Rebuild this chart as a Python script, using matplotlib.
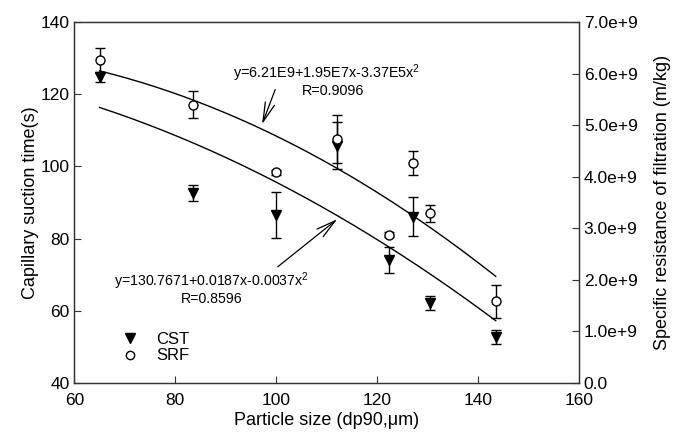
import numpy as np
import matplotlib
matplotlib.use('Agg')
import matplotlib.pyplot as plt
from matplotlib.lines import Line2D

plt.rcParams['font.family'] = ['Liberation Sans', 'DejaVu Sans']
plt.rcParams['mathtext.default'] = 'regular'

# particle size (dp90, um)
particle_size = [65, 83.5, 100, 112, 122.3, 127.2, 130.4, 143.5]
# capillary suction time (s)
cst = [124.8, 92.6, 86.5, 105.8, 74.1, 86.1, 62.2, 52.8]
cst_err = [1.5, 2.2, 6.3, 6.6, 3.6, 5.5, 2.0, 2.0]
# specific resistance of filtration (m/kg)
srf = [6.26e9, 5.40e9, 4.09e9, 4.73e9, 2.88e9, 4.26e9, 3.29e9, 1.59e9]
srf_err = [0.24e9, 0.26e9, 0.05e9, 0.47e9, 0.04e9, 0.23e9, 0.16e9, 0.32e9]

# fitted equations printed on the chart (c0 + c1*x + c2*x^2)
cst_coef = [130.7671, 0.0187, -0.0037]
srf_coef = [6.21e9, 1.95e7, -3.37e5]
fit_range = [65, 143.5]

right_ticks = [0, 1e9, 2e9, 3e9, 4e9, 5e9, 6e9, 7e9]
right_labels = ['0.0', '1.0e+9', '2.0e+9', '3.0e+9', '4.0e+9', '5.0e+9', '6.0e+9', '7.0e+9']


def quad(c, x):
    return c[0] + c[1] * x + c[2] * x ** 2


fig = plt.figure(figsize=(6.76, 4.33), dpi=100)
ax = fig.add_axes([0.110, 0.1155, 0.7465, 0.8335])
ax2 = ax.twinx()

xf = np.linspace(fit_range[0], fit_range[1], 200)

# CST on left axis
ax.plot(xf, quad(cst_coef, xf), color='black', lw=1.0)
ax.errorbar(particle_size, cst, yerr=cst_err, fmt='none', ecolor='black',
            elinewidth=1.0, capsize=3.8, capthick=1.0)
ax.plot(particle_size, cst, 'v', color='black', markersize=7, ls='none')

# SRF on right axis
ax2.plot(xf, quad(srf_coef, xf), color='black', lw=1.0)
ax2.errorbar(particle_size, srf, yerr=srf_err, fmt='none', ecolor='black',
             elinewidth=1.0, capsize=3.8, capthick=1.0)
ax2.plot(particle_size, srf, 'o', mfc='white', mec='black', mew=1.0,
         markersize=6.5, ls='none')

ax.set_xlim(60, 160)
ax.set_ylim(40, 140)
ax2.set_ylim(0, 7e9)
ax.set_xticks([60, 80, 100, 120, 140, 160])
ax.set_yticks([40, 60, 80, 100, 120, 140])
ax2.set_yticks(right_ticks)
ax2.set_yticklabels(right_labels)

for a in (ax, ax2):
    a.tick_params(direction='in', length=5, width=0.8, labelsize=12.5, color='#333333')
    for s in a.spines.values():
        s.set_color('#333333')
        s.set_linewidth(0.9)
ax.tick_params(axis='x', pad=7)

ax.set_xlabel('Particle size (dp90,\u03bcm)', fontsize=13, labelpad=3)
ax.set_ylabel('Capillary suction time(s)', fontsize=13, labelpad=1)
ax2.set_ylabel('Specific resistance of filtration (m/kg)', fontsize=13, labelpad=12)

# equations and arrows
ax.text(109.9, 125.7, 'y=6.21E9+1.95E7x-3.37E5x$^2$', fontsize=10.4,
        ha='center', va='center')
ax.text(111.2, 120.8, 'R=0.9096', fontsize=10.4, ha='center', va='center')
ax.annotate('', xy=(97.2, 111.7), xytext=(99.8, 121.3),
            arrowprops=dict(arrowstyle='->,head_length=1.4,head_width=0.35',
                            color='black', lw=0.9, shrinkA=0, shrinkB=0))

ax.text(87.2, 68.3, 'y=130.7671+0.0187x-0.0037x$^2$', fontsize=10.2,
        ha='center', va='center')
ax.text(87.3, 63.3, 'R=0.8596', fontsize=10.2, ha='center', va='center')
ax.annotate('', xy=(112.1, 85.4), xytext=(100.3, 72.2),
            arrowprops=dict(arrowstyle='->,head_length=1.4,head_width=0.35',
                            color='black', lw=0.9, shrinkA=0, shrinkB=0))

handles = [Line2D([], [], marker='v', color='black', ls='none', markersize=7),
           Line2D([], [], marker='o', mfc='white', mec='black', ls='none', markersize=6)]
ax2.legend(handles, ['CST', 'SRF'], loc='lower left', bbox_to_anchor=(0.07, 0.022),
           frameon=False, fontsize=12, handlelength=1.0, handletextpad=1.1,
           labelspacing=0.1, borderpad=0.2)

fig.savefig('out.png', dpi=100)
